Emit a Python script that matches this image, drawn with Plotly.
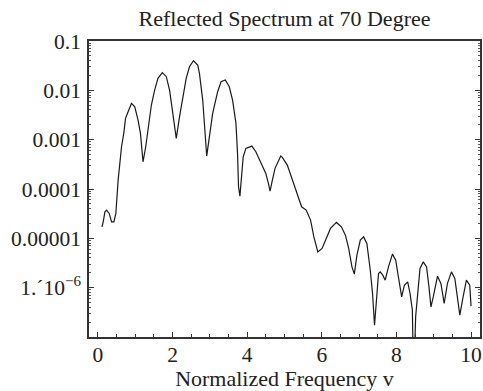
import plotly.graph_objects as go

# Normalized frequency v
freq = [0.107, 0.141, 0.187, 0.232, 0.301, 0.365, 0.427, 0.48, 0.541, 0.632,
        0.693, 0.739, 0.808, 0.899, 0.987, 1.075, 1.139, 1.208, 1.28, 1.368,
        1.432, 1.52, 1.608, 1.725, 1.832, 1.92, 2.008, 2.099, 2.187, 2.275,
        2.365, 2.453, 2.56, 2.675, 2.72, 2.808, 2.872, 2.915, 2.987, 3.075,
        3.208, 3.299, 3.413, 3.52, 3.608, 3.699, 3.741, 3.768, 3.805, 3.859,
        3.893, 3.965, 4.125, 4.232, 4.365, 4.499, 4.568, 4.613, 4.675, 4.747,
        4.899, 4.941, 5.075, 5.208, 5.368, 5.459, 5.581, 5.699, 5.787, 5.893,
        6.008, 6.232, 6.392, 6.525, 6.632, 6.72, 6.808, 6.872, 6.941, 7.032,
        7.12, 7.208, 7.299, 7.36, 7.413, 7.459, 7.52, 7.565, 7.635, 7.699,
        7.787, 7.893, 7.981, 8.053, 8.141, 8.213, 8.301, 8.365, 8.427, 8.461,
        8.515, 8.587, 8.632, 8.72, 8.808, 8.872, 8.925, 8.987, 9.101, 9.192,
        9.28, 9.368, 9.475, 9.565, 9.699, 9.787, 9.875, 9.965, 10.0]

# Reflected power
reflect = [1.71e-5, 2.16e-5, 3.45e-5, 3.73e-5, 3.20e-5, 2.16e-5, 2.16e-5, 3.20e-5, 1.51e-4, 7.18e-4,
           1.36e-3, 2.70e-3, 3.68e-3, 5.45e-3, 4.65e-3, 2.50e-3, 1.34e-3, 3.56e-4, 7.18e-4, 2.14e-3,
           5.04e-3, 1.01e-2, 1.75e-2, 2.28e-2, 1.89e-2, 1.01e-2, 2.92e-3, 1.06e-3, 2.92e-3, 7.41e-3,
           1.75e-2, 3.01e-2, 3.98e-2, 3.26e-2, 2.21e-2, 6.35e-3, 9.82e-4, 4.65e-4, 1.15e-3, 3.41e-3,
           9.38e-3, 1.49e-2, 1.62e-2, 1.18e-2, 6.35e-3, 2.14e-3, 5.27e-4, 1.11e-4, 7.18e-5, 2.07e-4,
           4.50e-4, 6.67e-4, 7.41e-4, 5.69e-4, 3.56e-4, 2.07e-4, 1.30e-4, 9.06e-5, 1.51e-4, 2.62e-4,
           4.65e-4, 4.38e-4, 3.05e-4, 1.51e-4, 6.95e-5, 4.36e-5, 3.73e-5, 2.34e-5, 1.07e-5, 5.32e-6,
           6.24e-6, 1.59e-5, 2.10e-5, 1.71e-5, 1.16e-5, 6.24e-6, 2.64e-6, 1.88e-6, 4.56e-6, 9.20e-6,
           1.07e-5, 7.89e-6, 2.26e-6, 7.62e-7, 1.73e-7, 4.79e-7, 1.94e-6, 2.09e-6, 1.79e-6, 1.42e-6,
           2.64e-6, 4.79e-6, 3.61e-6, 1.66e-6, 6.50e-7, 1.12e-6, 1.31e-6, 7.62e-7, 3.50e-7, 1.0e-8,
           2.56e-7, 1.04e-6, 2.45e-6, 3.33e-6, 2.64e-6, 1.04e-6, 4.08e-7, 6.50e-7, 1.71e-6, 1.22e-6,
           4.79e-7, 1.22e-6, 2.09e-6, 1.54e-6, 2.77e-7, 6.50e-7, 1.42e-6, 1.12e-6, 4.22e-7]

x_ticks = [0, 2, 4, 6, 8, 10]
x_ticktext = ["0", "2", "4", "6", "8", "10"]
y_ticks = [0.1, 0.01, 0.001, 0.0001, 0.00001, 1e-6]
y_ticktext = ["0.1", "0.01", "0.001", "0.0001", "0.00001", "1.´10<sup>−6</sup>"]

FONT = "Liberation Serif"
TICK_SIZE = 21.5
TITLE_SIZE = 22

fig = go.Figure()
fig.add_trace(go.Scatter(x=freq, y=reflect, mode="lines",
                         line=dict(color="#1a1a1a", width=1.2),
                         showlegend=False))

fig.update_layout(
    width=483, height=391,
    margin=dict(l=89, r=1, t=41, b=54),
    paper_bgcolor="white", plot_bgcolor="white",
    font=dict(family=FONT, size=TICK_SIZE, color="#222"),
    title=dict(text="Reflected Spectrum at 70 Degree", x=0.5, xref="paper",
               xanchor="center", y=1 - 18 / 391, yref="container", yanchor="middle",
               font=dict(family=FONT, size=TITLE_SIZE, color="#222")),
)

fig.update_xaxes(
    range=[-0.24, 10.24], tickvals=x_ticks, ticktext=x_ticktext,
    showgrid=False, zeroline=False,
    showline=True, linecolor="#333", linewidth=1.5, mirror=True,
    ticks="inside", ticklen=5, tickcolor="#333", tickwidth=1,
    ticklabelstandoff=-3,
    minor=dict(ticks="inside", dtick=0.5, ticklen=3, tickcolor="#333", showgrid=False),
    tickfont=dict(family=FONT, size=TICK_SIZE, color="#222"),
    title=dict(text="Normalized Frequency v", standoff=2,
               font=dict(family=FONT, size=TITLE_SIZE, color="#222")),
)

fig.update_yaxes(
    type="log", range=[-7, -1], tickvals=y_ticks, ticktext=y_ticktext,
    showgrid=False, zeroline=False,
    showline=True, linecolor="#333", linewidth=1.5, mirror="ticks",
    ticks="inside", ticklen=5, tickcolor="#333", tickwidth=1,
    ticklabelstandoff=2,
    minor=dict(ticks="inside", dtick="D1", ticklen=2.5, tickcolor="#555", showgrid=False),
    tickfont=dict(family=FONT, size=TICK_SIZE, color="#222"),
)

fig.write_html("out.html", config={"displayModeBar": False},
               post_script="document.body.style.margin='0';")
